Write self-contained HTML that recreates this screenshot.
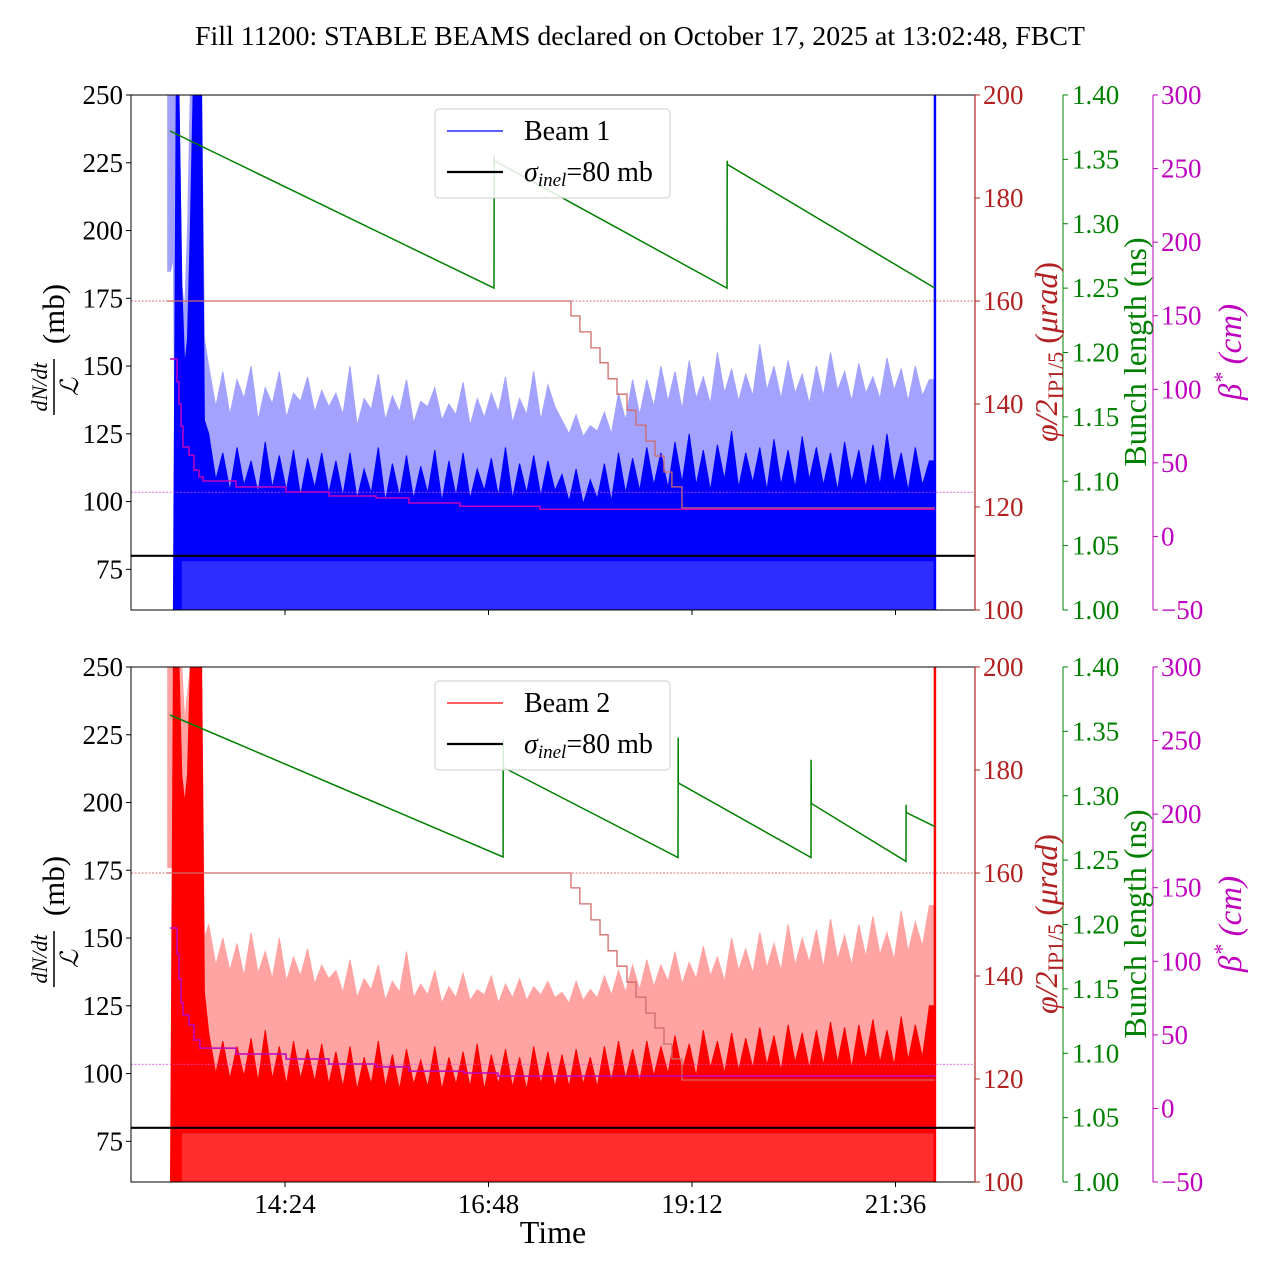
<!DOCTYPE html>
<html><head><meta charset="utf-8"><style>
html,body{margin:0;padding:0;background:#fff;}
svg{display:block;font-family:"Liberation Serif","DejaVu Serif",serif;}
</style></head><body>
<svg id="chart" width="1280" height="1280" viewBox="0 0 1280 1280" xmlns="http://www.w3.org/2000/svg">
<rect width="1280" height="1280" fill="#fff"/>
<text x="640" y="45" font-size="27.9" text-anchor="middle">Fill 11200: STABLE BEAMS declared on October 17, 2025 at 13:02:48, FBCT</text>
<text x="553" y="1243" font-size="32" text-anchor="middle">Time</text>
</svg>
<script>
// time in minutes after 13:00
const xTickTimes = [84, 228, 372, 516];
const xTickLabels = ["14:24", "16:48", "19:12", "21:36"];
const leftTicks = [75, 100, 125, 150, 175, 200, 225, 250];
const redTicks = [100, 120, 140, 160, 180, 200];
const greenTicks = [1.00, 1.05, 1.10, 1.15, 1.20, 1.25, 1.30, 1.35, 1.40];
const greenTickLabels = ["1.00","1.05","1.10","1.15","1.20","1.25","1.30","1.35","1.40"];
const magTicks = [-50, 0, 50, 100, 150, 200, 250, 300];
const magTickLabels = ["\u221250","0","50","100","150","200","250","300"];

const tEarly = [1,3,5,7,9,11,13,15,17,19,21,23,25,27];
const b1EarlyHi = [250,250,250,250,250,180,170,200,250,250,250,250,250,160];
const b1EarlyLo = [185,185,190,60,60,60,60,60,60,60,60,60,60,60];
const b1EarlyDarkHi = [60,60,60,250,250,180,150,160,200,250,250,250,250,130];
const b2EarlyHi = [250,250,250,250,250,250,230,240,250,250,250,250,250,150];
const b2EarlyLo = [176,176,176,60,60,60,60,60,60,60,60,60,60,60];
const b2EarlyDarkHi = [60,60,250,250,250,210,200,210,250,250,250,250,250,130];

// main section sampled every 5 minutes from t=30
const b1Light = [150,135,148,132,145,138,150,130,142,136,148,131,140,137,146,133,141,135,
140,132,150,128,138,134,147,130,139,133,145,129,137,135,142,130,136,132,144,128,138,131,140,133,146,129,138,132,148,130,143,135,
130,125,132,124,128,126,133,125,140,130,145,132,
145,135,150,137,148,134,152,138,146,136,155,140,149,137,147,139,158,141,150,138,152,140,147,136,150,139,155,141,148,137,151,140,146,138,153,141,149,137,150,139,145];
const b1Dark = [125,108,118,104,120,106,115,103,122,105,117,104,119,102,116,105,118,103,
115,102,118,101,112,103,120,100,114,102,117,101,113,103,119,100,115,102,118,101,112,104,116,102,120,101,114,103,117,102,115,104,
110,100,112,99,108,101,114,100,118,103,116,104,
120,106,118,105,122,107,125,106,119,104,121,108,126,105,118,107,120,104,123,106,119,105,124,108,120,106,118,104,122,107,119,105,121,106,125,107,118,104,120,106,115];
const b2Light = [155,140,150,138,148,136,152,137,145,135,150,134,143,136,146,133,140,135,
138,130,142,128,135,131,140,127,134,130,145,128,133,129,138,126,132,128,137,127,131,129,136,126,133,128,135,127,132,129,134,128,
130,126,134,127,131,128,136,129,138,130,140,131,
142,132,140,134,145,133,141,135,147,136,143,134,150,138,146,137,152,139,148,138,155,140,150,141,153,139,157,142,151,140,155,143,158,144,152,142,160,145,156,147,162];
const b2Dark = [115,100,112,98,110,99,113,97,116,98,110,96,112,98,109,97,111,96,
108,95,110,94,106,96,112,95,107,94,109,96,105,95,110,94,106,96,108,95,111,94,107,96,109,95,106,94,110,96,108,95,
107,95,109,96,106,95,110,97,112,98,109,97,
112,99,110,100,114,101,111,99,116,102,112,100,115,101,113,102,117,103,114,101,118,104,115,102,116,103,119,104,117,102,118,105,120,104,116,103,121,105,118,106,125];
const endTime = 543.9;

// bunch length (ns)
const g1T = [2.6, 231.9, 232.0, 232.2, 396.8, 396.9, 397.1, 543.9];
const g1V = [1.372, 1.250, 1.353, 1.349, 1.250, 1.349, 1.346, 1.250];
const g2T = [2.6, 238.3, 238.4, 238.5, 362.1, 362.2, 362.3, 456.2, 456.3, 456.4, 523.4, 523.5, 523.6, 543.9];
const g2V = [1.3627, 1.2524, 1.344, 1.322, 1.252, 1.345, 1.310, 1.252, 1.328, 1.294, 1.249, 1.293, 1.287, 1.276];

// crossing angle (urad), step-after
const xaT = [0, 286.4, 292.7, 300.5, 306.9, 312.6, 318.9, 326.0, 332.4, 339.4, 345.8, 352.2, 357.8, 364.9, 543.9];
const xaV = [160, 157.1, 154, 150.9, 148, 144.9, 141.9, 138.8, 135.9, 132.8, 129.9, 126.8, 123.9, 119.8, 119.8];

// beta* (cm), step-after
const be1T = [2.6, 6.2, 7.6, 9.0, 10.4, 11.8, 16.1, 19.6, 23.1, 26.0, 49.3, 84.7, 115.1, 148.4, 171.7, 207.8, 264.4, 543.9];
const be1V = [120.6, 120.6, 105, 90, 75, 60.8, 55.3, 45.1, 40.4, 37.7, 33.6, 30.2, 27.5, 26.1, 22.7, 20.5, 18.5, 18.5];
const be2T = [2.6, 5.5, 7.6, 9.0, 10.4, 11.8, 16.1, 19.6, 23.8, 49.3, 84.7, 115.1, 148.4, 171.7, 210.6, 234.7, 543.9];
const be2V = [122.6, 122.6, 105, 88, 72, 63.5, 56.7, 46.5, 41, 37, 33.6, 30.2, 28.2, 25.4, 24.1, 22, 21.4];

const refSigma = 80;
const refRed = 160;
const refBeta = 30;

const NS = "http://www.w3.org/2000/svg";
const svg = document.getElementById('chart');
const L = 131, R = 975, H = 515;
const FS = 27;
function xT(t){ return 285 + (t - 84) * 1.4132; }
function mk(tag, attrs, parent){ const e = document.createElementNS(NS, tag); for (const k in attrs) e.setAttribute(k, attrs[k]); (parent||svg).appendChild(e); return e; }

function drawPanel(p, top, beam){
  const yL = v => top + (250 - v) * H / 190;
  const yR = v => top + (200 - v) * H / 100;
  const yG = v => top + (1.40 - v) * H / 0.40;
  const yB = v => top + (300 - v) * H / 350;
  const g = mk('g', {});
  
  
  const cid = 'clip' + beam;
  const defs = mk('defs', {}, g);
  const cp = mk('clipPath', {id: cid}, defs);
  mk('rect', {x: L, y: top, width: R - L, height: H}, cp);
  const plot = mk('g', {'clip-path': 'url(#' + cid + ')'}, g);

  const col = beam === 1 ? '#0000ff' : '#ff0000';
  const light = beam === 1 ? '#a3a3ff' : '#ffa3a3';
  const eHi = beam === 1 ? b1EarlyHi : b2EarlyHi;
  const eLo = beam === 1 ? b1EarlyLo : b2EarlyLo;
  const eDk = beam === 1 ? b1EarlyDarkHi : b2EarlyDarkHi;
  const mLight = beam === 1 ? b1Light : b2Light;
  const mDark = beam === 1 ? b1Dark : b2Dark;
  const tMain = mLight.map((_, i) => 30 + 5 * i);

  // light band
  let up = [], lo = [];
  tEarly.forEach((t, i) => { up.push([xT(t), yL(eHi[i])]); lo.push([xT(t), yL(eLo[i])]); });
  tMain.forEach((t, i) => { up.push([xT(t), yL(mLight[i])]); lo.push([xT(t), yL(55)]); });
  up.push([xT(endTime), yL(mLight[mLight.length-1])]); lo.push([xT(endTime), yL(55)]);
  const lp = mk('polygon', {points: up.concat(lo.reverse()).map(q => q[0].toFixed(1) + ',' + q[1].toFixed(1)).join(' '), fill: light, stroke: light, 'stroke-width': 1}, plot);
  
  
  // dark band
  up = []; lo = [];
  tEarly.forEach((t, i) => { up.push([xT(t), yL(eDk[i])]); lo.push([xT(t), yL(i < 3 ? 60 : 55)]); });
  tMain.forEach((t, i) => { up.push([xT(t), yL(mDark[i])]); lo.push([xT(t), yL(55)]); });
  up.push([xT(endTime - 1), yL(mDark[mDark.length-1])]); lo.push([xT(endTime - 1), yL(55)]);
  const dp = mk('polygon', {points: up.concat(lo.reverse()).map(q => q[0].toFixed(1) + ',' + q[1].toFixed(1)).join(' '), fill: col, stroke: col, 'stroke-width': 1}, plot);
  
  
  // lower noisy strip: mixture of light and dark
  const mix = mk('rect', {x: xT(11), y: yL(78), width: xT(endTime - 1) - xT(11), height: yL(55) - yL(78), fill: light, opacity: 0.28}, plot);
  
  
  const sp = mk('line', {x1: xT(endTime), x2: xT(endTime), y1: yL(55), y2: yL(260), stroke: col, 'stroke-width': 2.5}, plot);
  
  

  // reference dotted lines
  const r1 = mk('line', {x1: L, x2: R, y1: yR(refRed), y2: yR(refRed), stroke: '#c44', 'stroke-width': 0.8, 'stroke-dasharray': '2,1.5'}, plot);
  
  
  const r2 = mk('line', {x1: L, x2: R, y1: yB(refBeta), y2: yB(refBeta), stroke: '#e040e0', 'stroke-width': 0.8, 'stroke-dasharray': '2,1.5'}, plot);
  
  

  // crossing angle step
  let d = '';
  xaT.forEach((t, i) => { d += (i ? ' H' + xT(t).toFixed(1) + ' V' : 'M' + xT(t).toFixed(1) + ',') + yR(xaV[i]).toFixed(1); });
  const xa = mk('path', {d: d, fill: 'none', stroke: '#d06a6a', 'stroke-width': 1.3}, plot);
  
  

  // beta star
  const bT = beam === 1 ? be1T : be2T, bV = beam === 1 ? be1V : be2V;
  d = '';
  bT.forEach((t, i) => { d += (i ? ' H' + xT(t).toFixed(1) + ' V' : 'M' + xT(t).toFixed(1) + ',') + yB(bV[i]).toFixed(1); });
  const bl = mk('path', {d: d, fill: 'none', stroke: '#bf00bf', 'stroke-width': 1.5}, plot);
  
  

  // bunch length
  const gT = beam === 1 ? g1T : g2T, gV = beam === 1 ? g1V : g2V;
  const gl = mk('polyline', {points: gT.map((t, i) => xT(t).toFixed(1) + ',' + yG(gV[i]).toFixed(1)).join(' '), fill: 'none', stroke: '#008000', 'stroke-width': 1.5}, plot);
  
  

  // sigma inel
  const sl = mk('line', {x1: L, x2: R, y1: yL(refSigma), y2: yL(refSigma), stroke: '#000', 'stroke-width': 2.2}, plot);
  
  

  // frame
  const fr = mk('rect', {x: L, y: top, width: R - L, height: H, fill: 'none', stroke: '#000', 'stroke-width': 1}, g);
  
  
  mk('line', {x1: R, x2: R, y1: top, y2: top + H, stroke: '#b22222', 'stroke-width': 1.2}, g);

  // left ticks
  leftTicks.forEach(v => {
    mk('line', {x1: L - 5, x2: L, y1: yL(v), y2: yL(v), stroke: '#000'}, g);
    const tx = mk('text', {x: L - 8, y: yL(v) + 9, 'font-size': FS, 'text-anchor': 'end'}, g);
    tx.textContent = v;
    
    
  });
  // x ticks
  xTickTimes.forEach((t, i) => {
    mk('line', {x1: xT(t), x2: xT(t), y1: top + H, y2: top + H + 5, stroke: '#000'}, g);
    if (beam === 2) {
      const tx = mk('text', {x: xT(t), y: top + H + 31, 'font-size': FS, 'text-anchor': 'middle'}, g);
      tx.textContent = xTickLabels[i];
      
      
    }
  });
  // red axis
  redTicks.forEach(v => {
    mk('line', {x1: R, x2: R + 5, y1: yR(v), y2: yR(v), stroke: '#b22222'}, g);
    const tx = mk('text', {x: R + 8, y: yR(v) + 9, 'font-size': FS, fill: '#b22222'}, g);
    tx.textContent = v;
    
    
  });
  // green axis
  mk('line', {x1: 1063, x2: 1063, y1: top, y2: top + H, stroke: '#008000'}, g);
  greenTicks.forEach((v, i) => {
    mk('line', {x1: 1063, x2: 1068, y1: yG(v), y2: yG(v), stroke: '#008000'}, g);
    const tx = mk('text', {x: 1072, y: yG(v) + 9, 'font-size': FS, fill: '#008000'}, g);
    tx.textContent = greenTickLabels[i];
    
    
  });
  // magenta axis
  mk('line', {x1: 1153, x2: 1153, y1: top, y2: top + H, stroke: '#bf00bf'}, g);
  magTicks.forEach((v, i) => {
    mk('line', {x1: 1153, x2: 1158, y1: yB(v), y2: yB(v), stroke: '#bf00bf'}, g);
    const tx = mk('text', {x: 1161, y: yB(v) + 9, 'font-size': FS, fill: '#bf00bf'}, g);
    tx.textContent = magTickLabels[i];
    
    
  });

  // axis titles
  const cy = top + 257;
  const lt = mk('g', {transform: 'translate(54,' + (cy - 5) + ') rotate(-90)'}, g);
  
  
  let t1 = mk('text', {x: -40, y: -7, 'font-size': 22, 'text-anchor': 'middle', 'font-style': 'italic'}, lt); t1.textContent = 'dN/dt';
  mk('line', {x1: -68, x2: -12, y1: 0, y2: 0, stroke: '#000', 'stroke-width': 1.5}, lt);
  t1 = mk('text', {x: -40, y: 24, 'font-size': 25, 'text-anchor': 'middle', 'font-style': 'italic'}, lt); t1.textContent = '\u2112';
  t1 = mk('text', {x: 33, y: 10, 'font-size': 31, 'text-anchor': 'middle'}, lt); t1.textContent = '(mb)';

  const rt = mk('text', {transform: 'translate(1057,' + cy + ') rotate(-90)', 'font-size': 32, 'text-anchor': 'middle', fill: '#b22222'}, g);
  rt.innerHTML = '<tspan font-style="italic">\u03c6/2</tspan><tspan font-size="22" dy="6">IP1/5</tspan><tspan dy="-6"> (</tspan><tspan font-style="italic">\u03bcrad</tspan>)';
  
  
  const gt = mk('text', {transform: 'translate(1146,' + cy + ') rotate(-90)', 'font-size': 32, 'text-anchor': 'middle', fill: '#008000'}, g);
  gt.textContent = 'Bunch length (ns)';
  
  
  const mt = mk('text', {transform: 'translate(1241,' + cy + ') rotate(-90)', 'font-size': 33, 'text-anchor': 'middle', fill: '#bf00bf', 'font-style': 'italic'}, g);
  mt.innerHTML = '\u03b2<tspan dy="-12" font-size="22">*</tspan><tspan dy="12"> (cm)</tspan>';
  
  

  // legend
  const lg = mk('g', {}, g);
  
  
  mk('rect', {x: 435, y: top + 14, width: 235, height: 89, rx: 4, fill: 'rgba(255,255,255,0.85)', stroke: '#ccc'}, lg);
  const e1 = mk('line', {x1: 447, x2: 503, y1: top + 36, y2: top + 36, stroke: col, 'stroke-width': 1.2}, lg);
  
  
  t1 = mk('text', {x: 524, y: top + 45, 'font-size': 28}, lg); t1.textContent = 'Beam ' + beam;
  const e2 = mk('line', {x1: 447, x2: 503, y1: top + 77, y2: top + 77, stroke: '#000', 'stroke-width': 2.2}, lg);
  
  
  t1 = mk('text', {x: 524, y: top + 86, 'font-size': 28}, lg);
  t1.innerHTML = '<tspan font-style="italic">\u03c3</tspan><tspan font-style="italic" font-size="19" dy="5">inel</tspan><tspan dy="-5">=80 mb</tspan>';
}
drawPanel(0, 95, 1);
drawPanel(1, 667, 2);
</script>
</body></html>
